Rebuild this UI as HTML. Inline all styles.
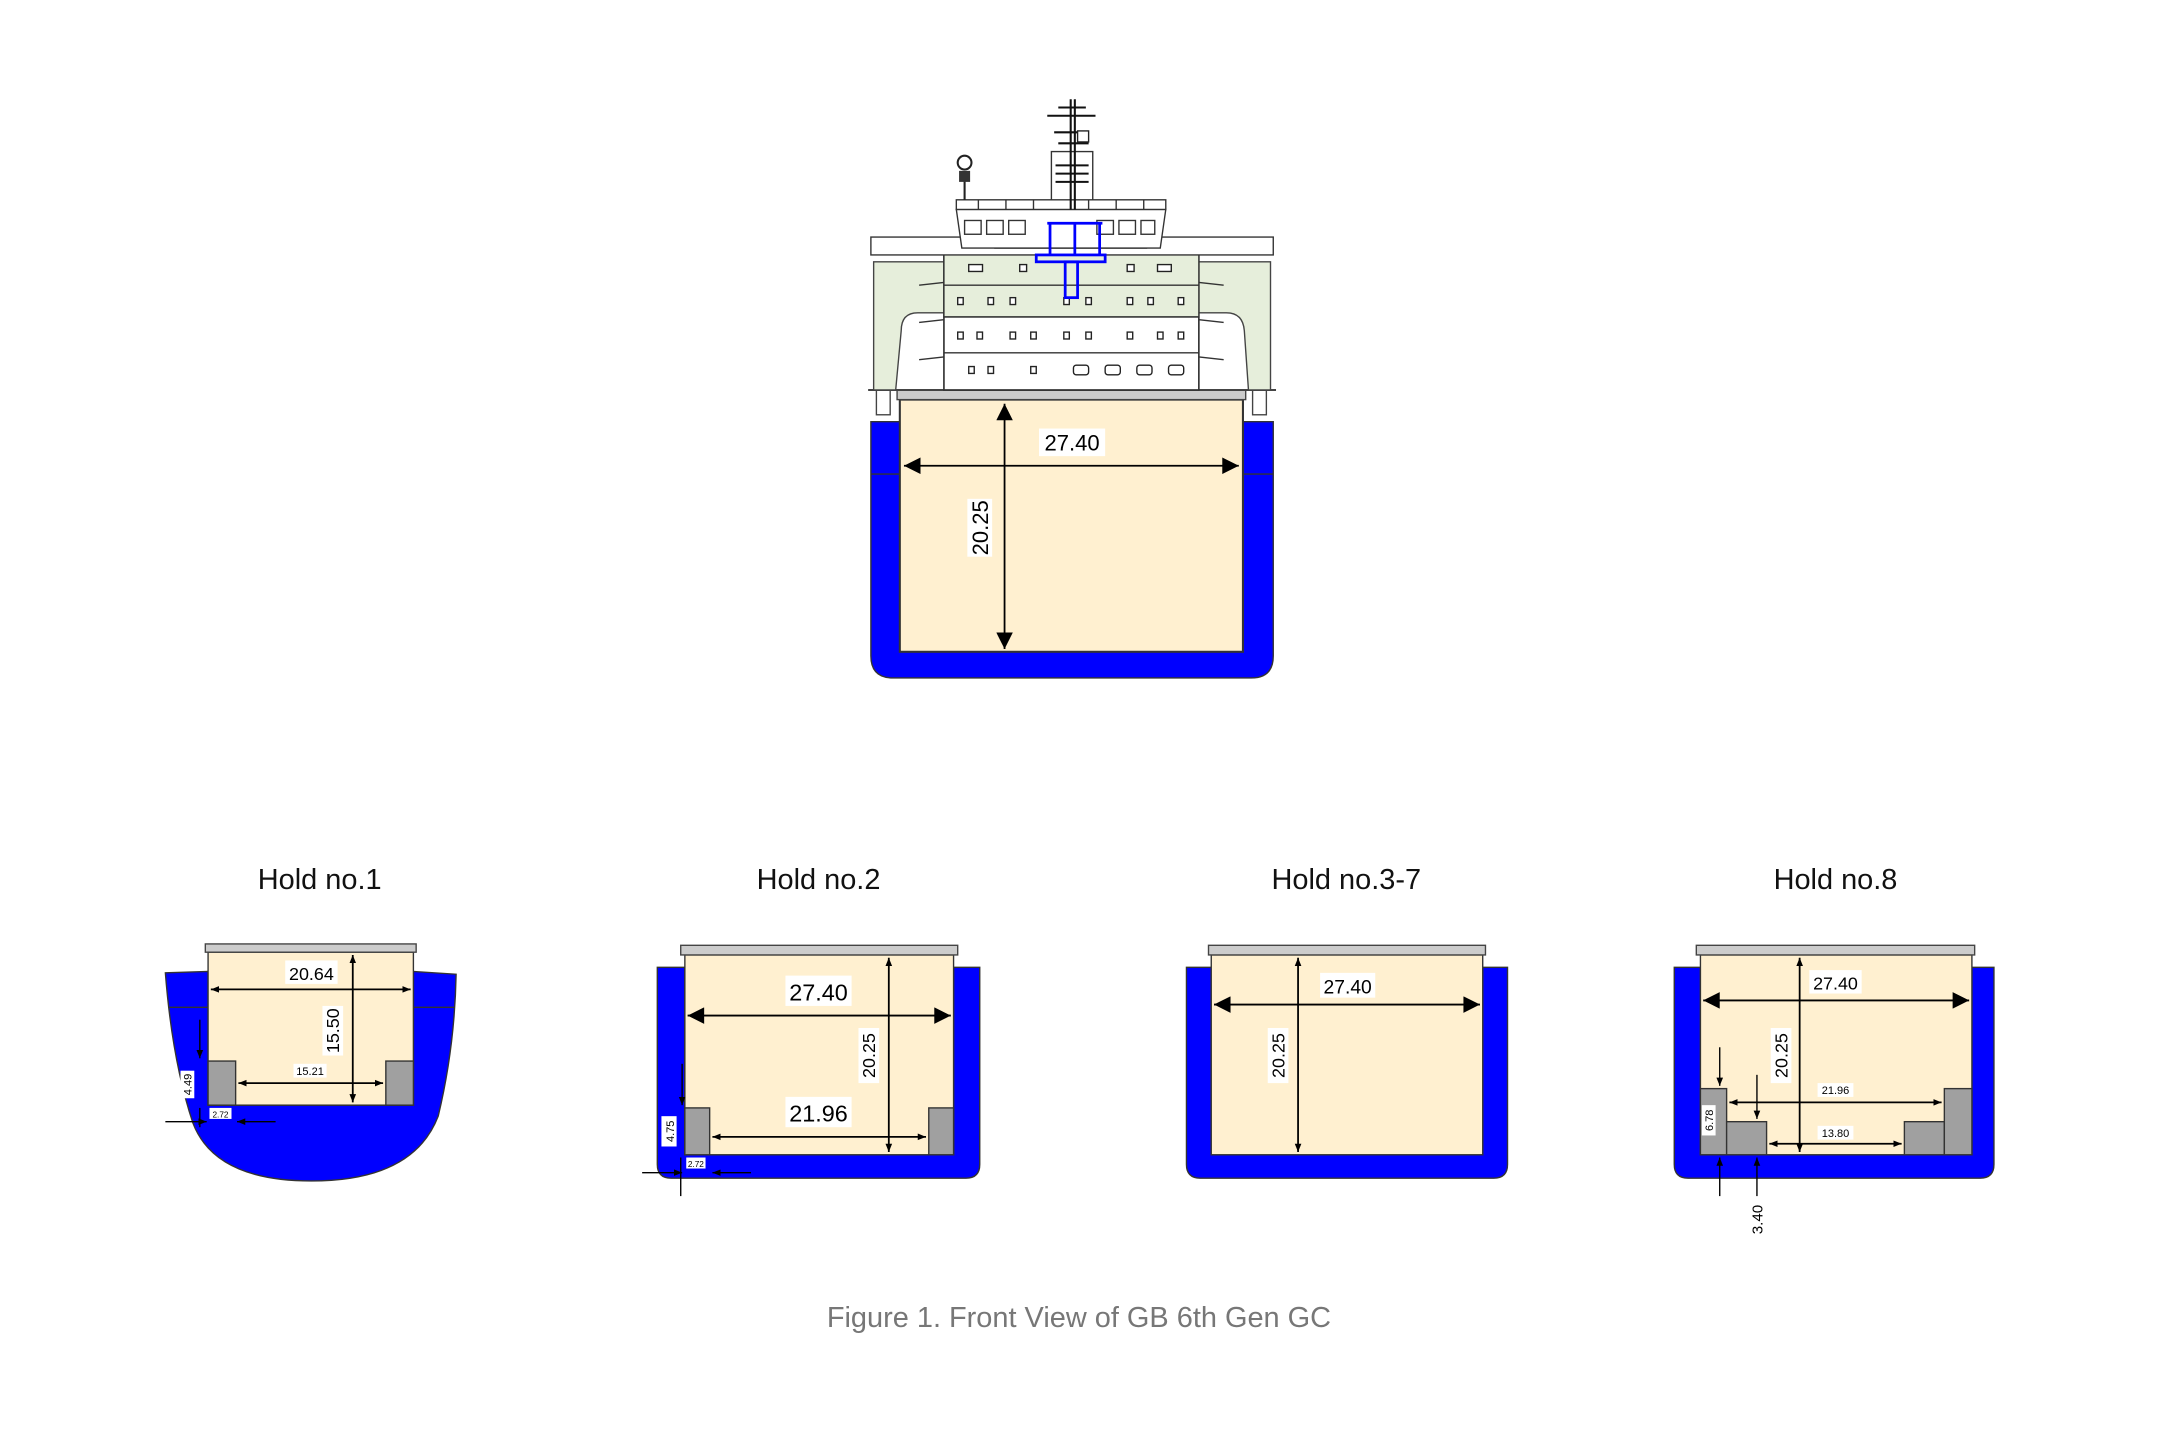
<!DOCTYPE html>
<html><head><meta charset="utf-8"><style>
html,body{margin:0;padding:0;background:#fff;width:2160px;height:1440px;overflow:hidden;}
svg{display:block;overflow:hidden;}
text{font-family:"Liberation Sans",sans-serif;}
</style></head><body>
<svg width="2160" height="1440" viewBox="0 0 1567 1045" preserveAspectRatio="xMinYMin meet" xmlns="http://www.w3.org/2000/svg">
<defs>
<marker id="a" viewBox="0 0 10 10" refX="10" refY="5" markerWidth="6" markerHeight="6" orient="auto-start-reverse" markerUnits="userSpaceOnUse"><path d="M0,1 L10,5 L0,9 z" fill="#000"/></marker>
<marker id="b" viewBox="0 0 10 10" refX="10" refY="5" markerWidth="16" markerHeight="12" orient="auto-start-reverse" markerUnits="userSpaceOnUse"><path d="M0,0 L10,5 L0,10 z" fill="#000"/></marker>
</defs>
<rect width="1567" height="1045" fill="#fff"/>

<!-- ===== MAIN SHIP ===== -->
<path d="M632,306 H653 V473 H902 V306 H924 V476 Q924,492 908,492 H648 Q632,492 632,476 Z" fill="#0000ff" stroke="#333" stroke-width="1"/>
<line x1="632" y1="344" x2="653" y2="344" stroke="#333"/><line x1="902" y1="344" x2="924" y2="344" stroke="#333"/>
<rect x="653" y="290" width="249" height="183" fill="#fff0d0" stroke="#333" stroke-width="1.5"/>
<rect x="651" y="283" width="253" height="7" fill="#ccc" stroke="#444" stroke-width="1"/>
<rect x="636" y="283" width="10" height="18" fill="#fff" stroke="#444"/><rect x="909" y="283" width="10" height="18" fill="#fff" stroke="#444"/>
<line x1="630" y1="283" x2="926" y2="283" stroke="#444" stroke-width="1.5"/>
<path d="M634,190 H922 V283 H906 L903,240 Q902,227 890,227 H666 Q654,227 654,240 L650,283 H634 Z" fill="#e6eedb" stroke="#444"/>
<rect x="685" y="180" width="185" height="103" fill="#fff" stroke="#333" stroke-width="1.2"/>
<rect x="685" y="182" width="185" height="48" fill="#e6eedb" stroke="#333" stroke-width="1"/>
<line x1="685" y1="207" x2="870" y2="207" stroke="#333"/>
<line x1="685" y1="230" x2="870" y2="230" stroke="#333"/>
<line x1="685" y1="256" x2="870" y2="256" stroke="#333"/>
<g stroke="#333" fill="none"><path d="M667,207 L685,205 M870,205 L888,207 M667,234 L685,232 M870,232 L888,234 M667,261 L685,259 M870,259 L888,261"/></g>
<g fill="#fff" stroke="#222" stroke-width="1">
<rect x="695" y="216" width="4" height="5"/><rect x="717" y="216" width="4" height="5"/><rect x="733" y="216" width="4" height="5"/><rect x="772" y="216" width="4" height="5"/><rect x="788" y="216" width="4" height="5"/><rect x="818" y="216" width="4" height="5"/><rect x="833" y="216" width="4" height="5"/><rect x="855" y="216" width="4" height="5"/>
<rect x="695" y="241" width="4" height="5"/><rect x="709" y="241" width="4" height="5"/><rect x="733" y="241" width="4" height="5"/><rect x="748" y="241" width="4" height="5"/><rect x="772" y="241" width="4" height="5"/><rect x="788" y="241" width="4" height="5"/><rect x="818" y="241" width="4" height="5"/><rect x="840" y="241" width="4" height="5"/><rect x="855" y="241" width="4" height="5"/>
<rect x="703" y="266" width="4" height="5"/><rect x="717" y="266" width="4" height="5"/><rect x="748" y="266" width="4" height="5"/><rect x="779" y="265" width="11" height="7" rx="2"/><rect x="802" y="265" width="11" height="7" rx="2"/><rect x="825" y="265" width="11" height="7" rx="2"/><rect x="848" y="265" width="11" height="7" rx="2"/>
<rect x="703" y="192" width="10" height="5"/><rect x="740" y="192" width="5" height="5"/><rect x="818" y="192" width="5" height="5"/><rect x="840" y="192" width="10" height="5"/>
</g>
<path d="M632,172 H722 V180 H832 V172 H924 V185 H632 Z" fill="#fff" stroke="#333"/>
<path d="M694,152 H846 L842,180 H698 Z" fill="#fff" stroke="#333"/>
<g fill="#fff" stroke="#333"><rect x="700" y="160" width="12" height="10"/><rect x="716" y="160" width="12" height="10"/><rect x="732" y="160" width="12" height="10"/><rect x="796" y="160" width="12" height="10"/><rect x="812" y="160" width="12" height="10"/><rect x="828" y="160" width="10" height="10"/></g>
<rect x="694" y="145" width="152" height="7" fill="#fff" stroke="#333"/>
<g stroke="#333"><line x1="710" y1="145" x2="710" y2="152"/><line x1="730" y1="145" x2="730" y2="152"/><line x1="750" y1="145" x2="750" y2="152"/><line x1="790" y1="145" x2="790" y2="152"/><line x1="810" y1="145" x2="810" y2="152"/><line x1="830" y1="145" x2="830" y2="152"/></g>
<rect x="763" y="110" width="30" height="35" fill="#fff" stroke="#333"/>
<g stroke="#111" stroke-width="1.5"><line x1="777" y1="72" x2="777" y2="152"/><line x1="780" y1="72" x2="780" y2="152"/>
<line x1="760" y1="84" x2="795" y2="84"/><line x1="765" y1="96" x2="790" y2="96"/><line x1="768" y1="104" x2="790" y2="104"/><line x1="768" y1="78" x2="788" y2="78"/>
<line x1="766" y1="120" x2="790" y2="120"/><line x1="766" y1="126" x2="790" y2="126"/><line x1="766" y1="132" x2="790" y2="132"/></g>
<rect x="782" y="95" width="8" height="8" fill="#fff" stroke="#222"/>
<line x1="700" y1="125" x2="700" y2="145" stroke="#222" stroke-width="1.5"/>
<circle cx="700" cy="118" r="5" fill="#fff" stroke="#222" stroke-width="1.5"/>
<rect x="696" y="124" width="8" height="8" fill="#333"/>
<g fill="none" stroke="#0000ff" stroke-width="2"><path d="M760,162 H800 M762,162 V185 M798,162 V185 M780,162 V185"/><rect x="752" y="185" width="50" height="5"/><rect x="773" y="190" width="9" height="26"/></g>
<line x1="729" y1="293" x2="729" y2="471" stroke="#000" stroke-width="1.3" marker-start="url(#b)" marker-end="url(#b)"/>
<line x1="656" y1="338" x2="899" y2="338" stroke="#000" stroke-width="1.3" marker-start="url(#b)" marker-end="url(#b)"/>
<rect x="754" y="311" width="48" height="20" fill="#fff"/>
<text x="778" y="327" font-size="16" text-anchor="middle">27.40</text>
<rect x="702" y="362" width="18" height="42" fill="#fff"/>
<text transform="translate(717,383) rotate(-90)" font-size="16" text-anchor="middle">20.25</text>

<g font-size="21" text-anchor="middle" fill="#111">
<text x="232" y="645">Hold no.1</text><text x="594" y="645">Hold no.2</text><text x="977" y="645">Hold no.3-7</text><text x="1332" y="645">Hold no.8</text>
</g>

<!-- HOLD 1 -->
<path d="M120,706 L151,705 V802 H300 V705 L331,707 Q330,760 318,810 Q300,857 226,857 Q156,857 140,815 Q125,770 120,706 Z" fill="#0000ff" stroke="#333"/>
<line x1="122" y1="731" x2="151" y2="731" stroke="#333"/><line x1="300" y1="731" x2="330" y2="731" stroke="#333"/>
<rect x="151" y="691" width="149" height="111" fill="#fff0d0" stroke="#333"/>
<rect x="149" y="685" width="153" height="6" fill="#ccc" stroke="#444"/>
<rect x="151" y="770" width="20" height="32" fill="#a0a0a0" stroke="#333"/><rect x="280" y="770" width="20" height="32" fill="#a0a0a0" stroke="#333"/>
<line x1="153" y1="718" x2="298" y2="718" stroke="#000" marker-start="url(#a)" marker-end="url(#a)" stroke-width="1.3"/>
<line x1="256" y1="693" x2="256" y2="800" stroke="#000" marker-start="url(#a)" marker-end="url(#a)" stroke-width="1.3"/>
<line x1="173" y1="786" x2="278" y2="786" stroke="#000" marker-start="url(#a)" marker-end="url(#a)" stroke-width="1.3"/>
<line x1="145" y1="740" x2="145" y2="768" stroke="#000" marker-end="url(#a)"/>
<line x1="145" y1="804" x2="145" y2="818" stroke="#000"/>
<line x1="120" y1="814" x2="150" y2="814" stroke="#000" marker-end="url(#a)"/>
<line x1="200" y1="814" x2="172" y2="814" stroke="#000" marker-end="url(#a)"/>
<rect x="207" y="697" width="38" height="17" fill="#fff"/><text x="226" y="711" font-size="13" text-anchor="middle">20.64</text>
<rect x="234" y="730" width="15" height="36" fill="#fff"/><text transform="translate(246,748) rotate(-90)" font-size="13" text-anchor="middle">15.50</text>
<rect x="213" y="772" width="24" height="10" fill="#fff"/><text x="225" y="780" font-size="8" text-anchor="middle">15.21</text>
<rect x="131" y="777" width="10" height="20" fill="#fff"/><text transform="translate(139,787) rotate(-90)" font-size="8" text-anchor="middle">4.49</text>
<rect x="152" y="804" width="16" height="8" fill="#fff"/><text x="160" y="811" font-size="6" text-anchor="middle">2.72</text>

<!-- HOLD 2 -->
<path d="M477,702 H497 V838 H692 V702 H711 V845 Q711,855 701,855 H487 Q477,855 477,845 Z" fill="#0000ff" stroke="#333"/>
<rect x="497" y="693" width="195" height="145" fill="#fff0d0" stroke="#333"/>
<rect x="494" y="686" width="201" height="7" fill="#ccc" stroke="#444"/>
<rect x="497" y="804" width="18" height="34" fill="#a0a0a0" stroke="#333"/><rect x="674" y="804" width="18" height="34" fill="#a0a0a0" stroke="#333"/>
<line x1="499" y1="737" x2="690" y2="737" stroke="#000" marker-start="url(#b)" marker-end="url(#b)" stroke-width="1.3"/>
<line x1="645" y1="695" x2="645" y2="836" stroke="#000" marker-start="url(#a)" marker-end="url(#a)" stroke-width="1.3"/>
<line x1="517" y1="825" x2="672" y2="825" stroke="#000" marker-start="url(#a)" marker-end="url(#a)" stroke-width="1.3"/>
<line x1="495" y1="772" x2="495" y2="802" stroke="#000" marker-end="url(#a)"/>
<line x1="494" y1="840" x2="494" y2="868" stroke="#000"/>
<line x1="466" y1="851" x2="495" y2="851" stroke="#000" marker-end="url(#a)"/>
<line x1="545" y1="851" x2="517" y2="851" stroke="#000" marker-end="url(#a)"/>
<rect x="570" y="708" width="48" height="22" fill="#fff"/><text x="594" y="726" font-size="17" text-anchor="middle">27.40</text>
<rect x="570" y="796" width="48" height="22" fill="#fff"/><text x="594" y="814" font-size="17" text-anchor="middle">21.96</text>
<rect x="623" y="746" width="15" height="40" fill="#fff"/><text transform="translate(635,766) rotate(-90)" font-size="13" text-anchor="middle">20.25</text>
<rect x="480" y="810" width="11" height="22" fill="#fff"/><text transform="translate(489,821) rotate(-90)" font-size="8" text-anchor="middle">4.75</text>
<rect x="498" y="840" width="14" height="8" fill="#fff"/><text x="505" y="847" font-size="6" text-anchor="middle">2.72</text>

<!-- HOLD 3-7 -->
<path d="M861,702 H879 V838 H1076 V702 H1094 V845 Q1094,855 1084,855 H871 Q861,855 861,845 Z" fill="#0000ff" stroke="#333"/>
<rect x="879" y="693" width="197" height="145" fill="#fff0d0" stroke="#333"/>
<rect x="877" y="686" width="201" height="7" fill="#ccc" stroke="#444"/>
<line x1="881" y1="729" x2="1074" y2="729" stroke="#000" marker-start="url(#b)" marker-end="url(#b)" stroke-width="1.3"/>
<line x1="942" y1="695" x2="942" y2="836" stroke="#000" marker-start="url(#a)" marker-end="url(#a)" stroke-width="1.3"/>
<rect x="958" y="706" width="40" height="18" fill="#fff"/><text x="978" y="721" font-size="14" text-anchor="middle">27.40</text>
<rect x="920" y="746" width="15" height="40" fill="#fff"/><text transform="translate(932,766) rotate(-90)" font-size="13" text-anchor="middle">20.25</text>

<!-- HOLD 8 -->
<path d="M1215,702 H1234 V838 H1431 V702 H1447 V845 Q1447,855 1437,855 H1225 Q1215,855 1215,845 Z" fill="#0000ff" stroke="#333"/>
<rect x="1234" y="693" width="197" height="145" fill="#fff0d0" stroke="#333"/>
<rect x="1231" y="686" width="202" height="7" fill="#ccc" stroke="#444"/>
<g fill="#a0a0a0" stroke="#333"><rect x="1234" y="790" width="19" height="48"/><rect x="1253" y="814" width="29" height="24"/><rect x="1382" y="814" width="29" height="24"/><rect x="1411" y="790" width="20" height="48"/></g>
<line x1="1236" y1="726" x2="1429" y2="726" stroke="#000" marker-start="url(#b)" marker-end="url(#b)" stroke-width="1.3"/>
<line x1="1306" y1="695" x2="1306" y2="836" stroke="#000" marker-start="url(#a)" marker-end="url(#a)" stroke-width="1.3"/>
<line x1="1255" y1="800" x2="1409" y2="800" stroke="#000" marker-start="url(#a)" marker-end="url(#a)" stroke-width="1.3"/>
<line x1="1284" y1="830" x2="1380" y2="830" stroke="#000" marker-start="url(#a)" marker-end="url(#a)" stroke-width="1.3"/>
<line x1="1248" y1="760" x2="1248" y2="788" stroke="#000" marker-end="url(#a)"/>
<line x1="1275" y1="780" x2="1275" y2="812" stroke="#000" marker-end="url(#a)"/>
<line x1="1248" y1="868" x2="1248" y2="840" stroke="#000" marker-end="url(#a)"/>
<line x1="1275" y1="868" x2="1275" y2="840" stroke="#000" marker-end="url(#a)"/>
<rect x="1313" y="704" width="38" height="17" fill="#fff"/><text x="1332" y="718" font-size="13" text-anchor="middle">27.40</text>
<rect x="1285" y="746" width="15" height="40" fill="#fff"/><text transform="translate(1297,766) rotate(-90)" font-size="13" text-anchor="middle">20.25</text>
<rect x="1319" y="786" width="26" height="10" fill="#fff"/><text x="1332" y="794" font-size="8" text-anchor="middle">21.96</text>
<rect x="1319" y="817" width="26" height="10" fill="#fff"/><text x="1332" y="825" font-size="8" text-anchor="middle">13.80</text>
<rect x="1235" y="802" width="10" height="22" fill="#fff"/><text transform="translate(1243,813) rotate(-90)" font-size="8" text-anchor="middle">6.78</text>
<text transform="translate(1279,885) rotate(-90)" font-size="11" text-anchor="middle">3.40</text>

<text x="783" y="963" font-size="21" text-anchor="middle" fill="#777">Figure 1. Front View of GB 6th Gen GC</text>
</svg>
</body></html>
